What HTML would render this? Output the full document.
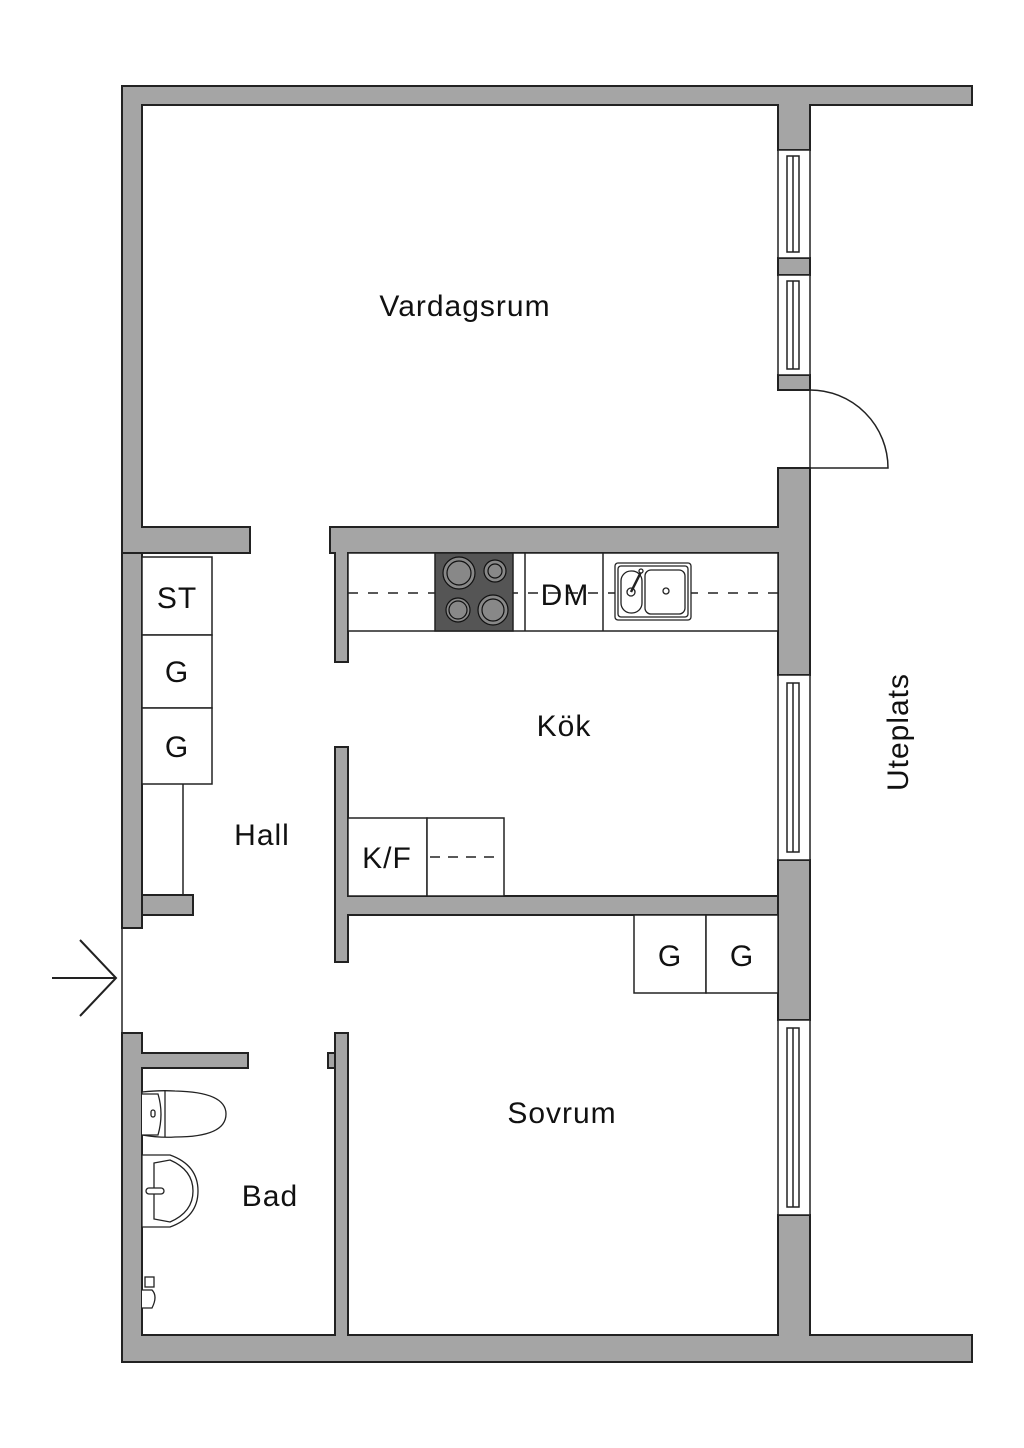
<!DOCTYPE html>
<html><head><meta charset="utf-8"><style>html,body{margin:0;padding:0;background:#fff}svg{display:block}</style></head><body>
<svg width="1024" height="1448" viewBox="0 0 1024 1448" xmlns="http://www.w3.org/2000/svg" font-family="Liberation Sans, sans-serif">
<rect width="1024" height="1448" fill="#fff"/>
<g fill="#a5a5a5" stroke="#222" stroke-width="2">
<path d="M122 86 H972 V105 H810 V150 H778 V105 H142 V527 H250 V553 H142 V557 H122 Z"/>
<rect x="122" y="553" width="20" height="375"/>
<path d="M142 895 H193 V915 H142 Z"/>
<path d="M122 1033 H142 V1053 H248 V1068 H142 V1335 H335 V1033 H348 V1335 H778 V1215 H810 V1335 H972 V1362 H122 Z"/>
<path d="M328 1053 H335 V1068 H328 Z"/>
<rect x="778" y="258" width="32" height="17"/>
<rect x="778" y="375" width="32" height="15"/>
<path d="M778 468 H810 V675 H778 V553 H348 V662 H335 V553 H330 V527 H778 Z"/>
<rect x="778" y="860" width="32" height="160"/>
<path d="M335 747 H348 V896 H778 V915 H348 V962 H335 Z"/>
</g>
<g fill="#fff" stroke="#222" stroke-width="1.5">
<rect x="778" y="150" width="32" height="108"/>
<rect x="787" y="156" width="12" height="96"/><line x1="793" y1="156" x2="793" y2="252"/>
<rect x="778" y="275" width="32" height="100"/>
<rect x="787" y="281" width="12" height="88"/><line x1="793" y1="281" x2="793" y2="369"/>
<rect x="778" y="675" width="32" height="185"/>
<rect x="787" y="683" width="12" height="169"/><line x1="793" y1="683" x2="793" y2="852"/>
<rect x="778" y="1020" width="32" height="195"/>
<rect x="787" y="1028" width="12" height="179"/><line x1="793" y1="1028" x2="793" y2="1207"/>
</g>
<g fill="none" stroke="#222" stroke-width="1.5">
<line x1="810" y1="390" x2="810" y2="468"/>
<path d="M810 390 A78 78 0 0 1 888 468 H810"/>
<line x1="122" y1="928" x2="122" y2="1033"/>
<line x1="52" y1="978" x2="116" y2="978" stroke-width="2"/>
<polyline points="80,940 116,978 80,1016" stroke-width="2"/>
</g>
<g fill="#fff" stroke="#222" stroke-width="1.5">
<rect x="142" y="557" width="70" height="78"/>
<rect x="142" y="635" width="70" height="73"/>
<rect x="142" y="708" width="70" height="76"/>
<line x1="183" y1="784" x2="183" y2="895"/>
<rect x="348" y="553" width="430" height="78"/>
<rect x="348" y="818" width="79" height="78"/>
<rect x="427" y="818" width="77" height="78"/>
<rect x="634" y="915" width="72" height="78"/>
<rect x="706" y="915" width="72" height="78"/>
<line x1="525" y1="553" x2="525" y2="631"/>
<line x1="603" y1="553" x2="603" y2="631"/>
</g>
<line x1="348" y1="593" x2="778" y2="593" stroke="#222" stroke-width="1.5" stroke-dasharray="10 10"/>
<line x1="430" y1="857" x2="500" y2="857" stroke="#222" stroke-width="1.5" stroke-dasharray="10 8"/>
<rect x="435" y="553" width="78" height="78" fill="#555" stroke="#222" stroke-width="1.5"/>
<g stroke="#111" stroke-width="1.2" fill="#888">
<circle cx="459" cy="573" r="16"/><circle cx="459" cy="573" r="12"/>
<circle cx="495" cy="571" r="11"/><circle cx="495" cy="571" r="7"/>
<circle cx="458" cy="610" r="12"/><circle cx="458" cy="610" r="9"/>
<circle cx="493" cy="610" r="15"/><circle cx="493" cy="610" r="11"/>
</g>
<g fill="#fff" stroke="#222" stroke-width="1.3">
<rect x="615" y="563" width="76" height="57" rx="3"/>
<rect x="618" y="566" width="70" height="51" rx="3"/>
<rect x="621" y="571" width="21" height="42" rx="10"/>
<rect x="645" y="570" width="40" height="44" rx="6"/>
<circle cx="666" cy="591" r="3"/>
<circle cx="631" cy="592" r="4"/>
<line x1="631" y1="592" x2="641" y2="572" stroke-width="2.5"/>
<circle cx="641" cy="571" r="2"/>
</g>
<g fill="#fff" stroke="#222" stroke-width="1.3">
<path d="M142 1092 Q160 1090 175 1091 Q226 1092 226 1114 Q226 1137 175 1137 Q160 1138 142 1135 Z"/>
<path d="M142 1094 H158 Q164 1114 158 1135 H142" />
<line x1="165" y1="1091" x2="165" y2="1137"/>
<rect x="151" y="1110" width="4" height="7" rx="2"/>
<path d="M142 1155 H170 Q198 1165 198 1191 Q198 1217 170 1227 H142 Z"/>
<path d="M154 1163 L170 1160 Q193 1170 193 1191 Q193 1212 170 1222 L154 1219 Z"/>
<rect x="146" y="1188" width="18" height="6" rx="3"/>
<rect x="145" y="1277" width="9" height="10"/>
<path d="M142 1290 H152 Q158 1296 152 1308 H142"/>
</g>
<g fill="#111" font-size="30" letter-spacing="1">
<text x="465" y="316" text-anchor="middle">Vardagsrum</text>
<text x="564" y="736" text-anchor="middle">Kök</text>
<text x="262" y="845" text-anchor="middle">Hall</text>
<text x="562" y="1123" text-anchor="middle">Sovrum</text>
<text x="270" y="1206" text-anchor="middle">Bad</text>
<text transform="translate(908 732) rotate(-90)" text-anchor="middle">Uteplats</text>
<text x="177" y="608" text-anchor="middle">ST</text>
<text x="177" y="682" text-anchor="middle">G</text>
<text x="177" y="757" text-anchor="middle">G</text>
<text x="565" y="605" text-anchor="middle">DM</text>
<text x="387" y="868" text-anchor="middle">K/F</text>
<text x="670" y="966" text-anchor="middle">G</text>
<text x="742" y="966" text-anchor="middle">G</text>
</g>
</svg>
</body></html>
